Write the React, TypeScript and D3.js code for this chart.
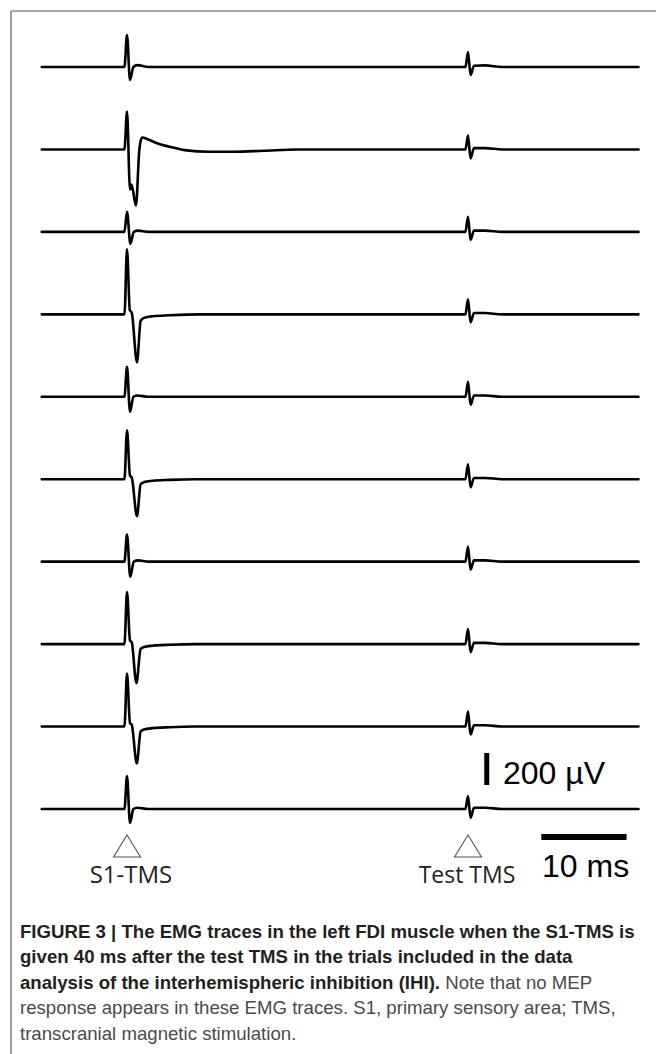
import React, { useLayoutEffect, useRef } from "react";
import * as d3 from "d3";

// ---- data (time in ms relative to S1-TMS, amplitude in µV) ----
const traceIds = ["1", "2", "3", "4", "5", "6", "7", "8", "9", "10"];
const stimTimes = [0, 40];
const stimLabels = ["S1-TMS", "Test TMS"];
const scaleAmplitude = 200; // µV
const scaleDuration = 10; // ms
const scaleLabels = ["200 µV", "10 ms"];

const trace01: [number, number][] = [[-10, 0], [-0.3, 0], [0, 200], [0.35, -81], [0.75, 0], [1.2, 12], [2.5, 0], [39.7, 0], [40, 94], [40.3, -50], [40.7, 8], [42, 10], [44, 0], [60, 0]];
const trace02: [number, number][] = [[-10, 0], [-0.3, 0], [0, 237], [0.35, -250], [0.53, -219], [1.05, -350], [1.45, 0], [1.76, 75], [2.5, 62], [3.6, 37], [5.4, 12], [7, -6], [9.5, -14], [12.5, -14], [16, -8], [20, 0], [39.7, 0], [40, 87], [40.3, -56], [40.7, 8], [42, 8], [44, 0], [60, 0]];
const trace03: [number, number][] = [[-10, 0], [-0.3, 0], [0, 125], [0.4, -75], [0.8, 0], [1.3, 8], [2.5, 0], [39.7, 0], [40, 94], [40.3, -50], [40.7, 8], [42, 8], [44, 0], [60, 0]];
const trace04: [number, number][] = [[-10, 0], [-0.3, 0], [0, 406], [0.33, 25], [0.55, 12], [1.17, -300], [1.6, -40], [2, -22], [3, -12], [5, -6], [8.6, 0], [39.7, 0], [40, 94], [40.3, -50], [40.7, 8], [42, 8], [44, 0], [60, 0]];
const trace05: [number, number][] = [[-10, 0], [-0.3, 0], [0, 187], [0.35, -94], [0.75, 0], [1.2, 8], [2.5, 0], [39.7, 0], [40, 94], [40.3, -50], [40.7, 8], [42, 8], [44, 0], [60, 0]];
const trace06: [number, number][] = [[-10, 0], [-0.3, 0], [0, 306], [0.35, 22], [0.55, 12], [1.17, -231], [1.6, -30], [2, -18], [3, -10], [5, -4], [8, 0], [39.7, 0], [40, 94], [40.3, -50], [40.7, 8], [42, 8], [44, 0], [60, 0]];
const trace07: [number, number][] = [[-10, 0], [-0.3, 0], [0, 169], [0.38, -94], [0.8, 0], [1.3, 8], [2.5, 0], [39.7, 0], [40, 94], [40.3, -50], [40.7, 8], [42, 8], [44, 0], [60, 0]];
const trace08: [number, number][] = [[-10, 0], [-0.3, 0], [0, 325], [0.35, 22], [0.55, 12], [1.1, -244], [1.6, -30], [2, -18], [3, -10], [5, -4], [8, 0], [39.7, 0], [40, 94], [40.3, -50], [40.7, 8], [42, 8], [44, 0], [60, 0]];
const trace09: [number, number][] = [[-10, 0], [-0.3, 0], [0, 331], [0.35, 22], [0.55, 12], [1.15, -231], [1.6, -30], [2, -18], [3, -10], [5, -4], [8, 0], [39.7, 0], [40, 94], [40.3, -50], [40.7, 8], [42, 8], [44, 0], [60, 0]];
const trace10: [number, number][] = [[-10, 0], [-0.3, 0], [0, 206], [0.35, -87], [0.75, 0], [1.2, 8], [2.5, 0], [39.7, 0], [40, 81], [40.3, -56], [40.7, 8], [42, 8], [44, 0], [60, 0]];
const traces = [trace01, trace02, trace03, trace04, trace05, trace06, trace07, trace08, trace09, trace10];

const captionLines: { bold: string; regular: string }[] = [
  { bold: "FIGURE 3 | The EMG traces in the left FDI muscle when the S1-TMS is", regular: "" },
  { bold: "given 40 ms after the test TMS in the trials included in the data", regular: "" },
  { bold: "analysis of the interhemispheric inhibition (IHI).", regular: " Note that no MEP" },
  { bold: "", regular: "response appears in these EMG traces. S1, primary sensory area; TMS," },
  { bold: "", regular: "transcranial magnetic stimulation." },
];

const W = 656;
const H = 1054;

export default function App() {
  const capRef = useRef<SVGGElement>(null);
  const firstLineRef = useRef<SVGTextElement>(null);

  const x = d3.scaleLinear().domain([0, 40]).range([127, 468]);
  const y = d3.scalePoint<string>().domain(traceIds).range([67, 809]);
  const amp = d3.scaleLinear().domain([0, scaleAmplitude]).range([0, -32]);
  const line = d3
    .line<[number, number]>()
    .x((d) => x(d[0]))
    .y((d) => amp(d[1]))
    .curve(d3.curveMonotoneX);

  useLayoutEffect(() => {
    if (!capRef.current || !firstLineRef.current) return;
    const len = firstLineRef.current.getComputedTextLength();
    const k = 615 / len;
    capRef.current.setAttribute("transform", `translate(20,0) scale(${k},1)`);
  }, []);

  const triW = 27;
  const triH = 22;
  const triTop = 835;

  const vBarT = 42.2;
  const vBarBase = 785;
  const hBarT0 = 48.6;
  const hBarY = 837;

  return (
    <svg
      width={W}
      height={H}
      style={{ position: "absolute", left: 0, top: 0, display: "block", background: "#fff" }}
    >
      {/* frame */}
      <line x1={11} y1={11} x2={W} y2={11} stroke="#8a8a8a" strokeWidth={1.6} />
      <line x1={11} y1={11} x2={11} y2={H} stroke="#8a8a8a" strokeWidth={1.6} />

      {/* traces */}
      {traces.map((tr, i) => (
        <g key={traceIds[i]} transform={`translate(0,${y(traceIds[i])})`}>
          <path d={line(tr) || ""} fill="none" stroke="#000" strokeWidth={2.6} strokeLinejoin="round" strokeLinecap="round" />
        </g>
      ))}

      {/* stimulus markers */}
      {stimTimes.map((t, i) => {
        const cx = x(t);
        return (
          <g key={"stim" + i}>
            <path
              d={`M${cx},${triTop}L${cx + triW / 2},${triTop + triH}L${cx - triW / 2},${triTop + triH}Z`}
              fill="#fff"
              stroke="#555"
              strokeWidth={1.1}
            />
            <text
              x={cx + (i === 0 ? 4 : -1)}
              y={883}
              textAnchor="middle"
              fontFamily="'Open Sans', sans-serif"
              fontSize={i === 0 ? 24 : 23}
              fill="#222"
            >
              {stimLabels[i]}
            </text>
          </g>
        );
      })}

      {/* scale bars */}
      <rect x={x(vBarT) - 2.5} y={vBarBase + amp(scaleAmplitude)} width={5} height={-amp(scaleAmplitude)} fill="#000" />
      <text x={503} y={784} fontFamily="'Liberation Sans', Arial, sans-serif" fontSize={32} fill="#000">
        {scaleLabels[0]}
      </text>
      <rect x={x(hBarT0)} y={hBarY - 3} width={x(hBarT0 + scaleDuration) - x(hBarT0)} height={6} fill="#000" />
      <text x={542} y={877} fontFamily="'Liberation Sans', Arial, sans-serif" fontSize={32} fill="#000">
        {scaleLabels[1]}
      </text>

      {/* caption */}
      <g ref={capRef} transform="translate(20,0)">
        {captionLines.map((ln, i) => (
          <text
            key={"cap" + i}
            ref={i === 0 ? firstLineRef : undefined}
            x={0}
            y={938 + i * 25.5}
            fontFamily="'Liberation Sans', Arial, sans-serif"
            fontSize={17.5}
          >
            {ln.bold && (
              <tspan fontWeight="bold" fill="#231f20">
                {ln.bold}
              </tspan>
            )}
            {ln.regular && <tspan fill="#4a4a4a">{ln.regular}</tspan>}
          </text>
        ))}
      </g>
    </svg>
  );
}
